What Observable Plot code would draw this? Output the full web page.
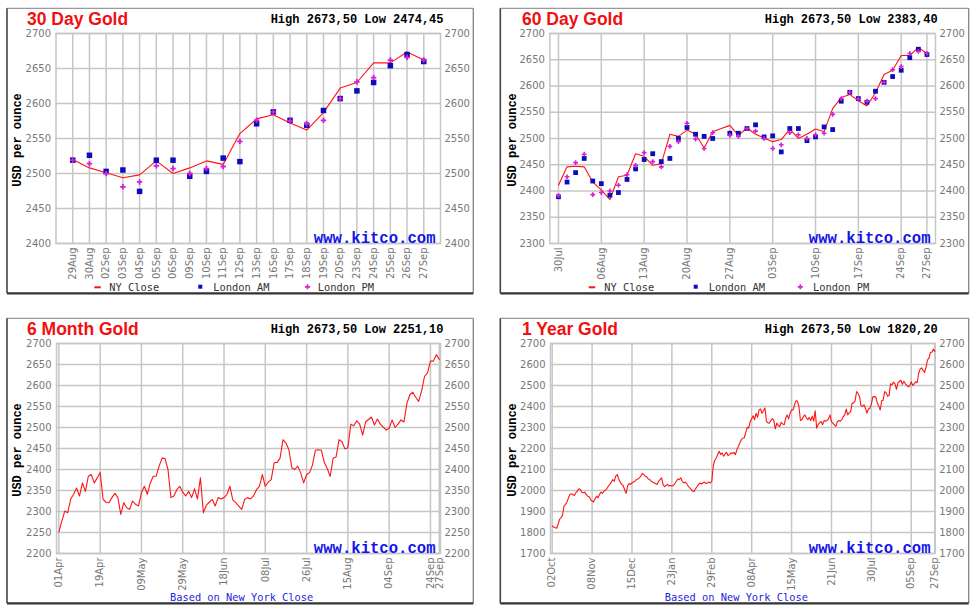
<!DOCTYPE html>
<html><head><meta charset="utf-8">
<script src="https://cdn.jsdelivr.net/npm/d3@7"></script>
<script src="https://cdn.jsdelivr.net/npm/@observablehq/plot@0.6"></script>
<style>
body{margin:0;background:#fff;}
#page{position:relative;width:974px;height:610px;overflow:hidden;background:#fff;}
</style></head>
<body><div id="page"></div>
<script>
// ---------- 30 day ----------
const days30 = ["29Aug","30Aug","02Sep","03Sep","04Sep","05Sep","06Sep","09Sep","10Sep","11Sep","12Sep","13Sep","16Sep","17Sep","18Sep","19Sep","20Sep","23Sep","24Sep","25Sep","26Sep","27Sep"];
const close30 = [2520,2508,2501,2494,2498,2518,2500,2508,2518,2513,2557,2578,2584,2572,2562,2587,2622,2630,2658,2658,2673.5,2662];
const am30 = [2519,2526,2503,2505,2474.45,2519,2519,2496,2503,2522,2517,2571,2588,2576,2569,2590,2607,2618,2630,2654,2670,2660];
const pm30 = [2519,2514,2500,2481,2488,2511,2507,2500,2507,2510,2546,2576,2588,2575,2571,2576,2607,2631,2637,2662,2666,2662];
const yTicks30 = [2400,2450,2500,2550,2600,2650,2700];

// ---------- 60 day ----------
const ticks60 = [0,5,10,15,20,25,30,35,40,43];
const labels60 = ["30Jul","06Aug","13Aug","20Aug","27Aug","03Sep","10Sep","17Sep","24Sep","27Sep"];
const close60 = [2411,2446,2447,2446,2417,2402,2383.4,2427,2430,2471,2466,2449,2452,2508,2504,2516,2508,2482,2513,2519,2525,2506,
  2520,2508,2501,2494,2498,2518,2500,2508,2518,2513,2557,2578,2584,2572,2562,2587,2622,2630,2658,2658,2673.5,2662];
const am60 = [2389,2417,2435,2462,2419,2414,2392,2397,2422,2442,2460,2471,2456,2462,2500,2521,2508,2504,2500,null,2510,2510,
  2519,2526,2503,2505,2474.45,2519,2519,2496,2503,2522,2517,2571,2588,2576,2569,2590,2607,2618,2630,2654,2670,2660];
const pm60 = [2391,2427,2454,2470,2393,2397,2400,2411,2431,2449,2473,2456,2446,2485,2494,2529,2499,2481,2511,null,2506,2504,
  2519,2514,2500,2481,2488,2511,2507,2500,2507,2510,2546,2576,2588,2575,2571,2576,2607,2631,2637,2662,2666,2662];
const yTicks60 = [2300,2350,2400,2450,2500,2550,2600,2650,2700];

// ---------- 6 month ----------
const ticks6m = [0,14,28,42,56,70,84,98,112,126,129];
const labels6m = ["01Apr","19Apr","09May","29May","18Jun","08Jul","26Jul","15Aug","04Sep","24Sep","27Sep"];
const close6m = [
  2251.1,2277,2301,2297,2329,2341,2356,2337,2368,2348,
  2384,2388,2368,2380,2393,2329,2322,2321,2333,2343,
  2333,2293,2321,2309,2305,2325,2317,2313,2345,2360,
  2341,2368,2384,2384,2408,2427,2426,2400,2333,2337,
  2352,2360,2346,2337,2348,2333,2354,2330,2380,2297,
  2315,2322,2329,2313,2333,2330,2333,2341,2360,2327,
  2321,2313,2305,2329,2333,2330,2337,2352,2360,2388,
  2360,2370,2376,2416,2417,2427,2471,2463,2447,2404,
  2400,2408,2392,2368,2388,2392,
  2411,2446,2447,2446,2417,2402,2383.4,2427,2430,2471,
  2466,2449,2452,2508,2504,2516,2508,2482,2513,2519,
  2525,2506,2520,2508,2501,2494,2498,2518,2500,2508,
  2518,2513,2557,2578,2584,2572,2562,2587,2622,2630,
  2658,2658,2673.5,2662];
const yTicks6m = [2200,2250,2300,2350,2400,2450,2500,2550,2600,2650,2700];

// ---------- 1 year ----------
const ticks1y = [0,27,54,81,108,135,162,189,216,243,259];
const labels1y = ["02Oct","08Nov","15Dec","23Jan","29Feb","08Apr","15May","21Jun","30Jul","05Sep","27Sep"];
const close1y = [
  1831,1826,1823,1820.2,1839,1863,1871,1882,1926,1934,
  1945,1965,1981,1984,1981,1976,1989,1997,2008,2005,
  1992,1989,1992,1981,1973,1970,1957,1950,1945,1961,
  1973,1965,1981,1992,1986,1997,2002,2008,2021,2029,
  2040,2052,2044,2068,2076,2055,2040,2029,2024,2005,
  1986,2021,2033,2029,2036,2040,2044,2052,2055,2060,
  2068,2081,2076,2068,2065,2055,2052,2044,2040,2036,
  2033,2029,2044,2052,2060,2029,2018,2024,2029,2021,
  2024,2021,2024,2033,2044,2055,2052,2060,2044,2036,
  2040,2033,2021,2013,2005,1997,1995,2008,2018,2028,
  2036,2031,2036,2040,2033,2036,2040,2036,2044,2116,
  2144,2155,2171,2187,2171,2179,2163,2174,2182,2166,
  2171,2179,2176,2182,2171,2195,2210,2226,2242,2250,
  2251.1,2277,2301,2297,2329,2341,2356,2337,2368,2348,
  2384,2388,2368,2380,2393,2329,2322,2321,2333,2343,
  2333,2293,2321,2309,2305,2325,2317,2313,2345,2360,
  2341,2368,2384,2384,2408,2427,2426,2400,2333,2337,
  2352,2360,2346,2337,2348,2333,2354,2330,2380,2297,
  2315,2322,2329,2313,2333,2330,2333,2341,2360,2327,
  2321,2313,2305,2329,2333,2330,2337,2352,2360,2388,
  2360,2370,2376,2416,2417,2427,2471,2463,2447,2404,
  2400,2408,2392,2368,2388,2392,
  2411,2446,2447,2446,2417,2402,2383.4,2427,2430,2471,
  2466,2449,2452,2508,2504,2516,2508,2482,2513,2519,
  2525,2506,2520,2508,2501,2494,2498,2518,2500,2508,
  2518,2513,2557,2578,2584,2572,2562,2587,2622,2630,
  2658,2658,2673.5,2662];
const yTicks1y = [1700,1800,1900,2000,2100,2200,2300,2400,2500,2600,2700];

const titles = ["30 Day Gold","60 Day Gold","6 Month Gold","1 Year Gold"];
const highLow = ["High 2673,50 Low 2474,45","High 2673,50 Low 2383,40","High 2673,50 Low 2251,10","High 2673,50 Low 1820,20"];
const legendNames = ["NY Close","London AM","London PM"];

const RED = "#ff1414", BLUE = "#0c0cb8", MAG = "#d81ed8", GRID = "#c6c6c6";
const page = document.getElementById("page");

function panel({left, top, width, height, ml, mr, xDomain, xTicks, xFormat, yDomain, yTicks, marks}) {
  const svg = Plot.plot({
    width, height,
    marginLeft: ml, marginRight: mr, marginTop: 25, marginBottom: 50,
    x: {type: "linear", domain: xDomain},
    y: {type: "linear", domain: yDomain},
    style: {fontFamily: "'DejaVu Sans', sans-serif", fontSize: "10px", color: "#777", background: "transparent", overflow: "visible"},
    marks: [
      Plot.gridY(yTicks, {stroke: GRID, strokeOpacity: 1, strokeWidth: 1.5}),
      Plot.gridX(xTicks, {stroke: GRID, strokeOpacity: 1, strokeWidth: 1.5}),
      Plot.frame({stroke: GRID, strokeWidth: 1.5}),
      Plot.axisY(yTicks, {anchor: "left", tickSize: 0, tickPadding: 5, tickFormat: "d", label: null}),
      Plot.axisY(yTicks, {anchor: "right", tickSize: 0, tickPadding: 4, tickFormat: "d", label: null}),
      Plot.axisX(xTicks, {anchor: "bottom", tickSize: 0, tickPadding: 4, tickRotate: -90, tickFormat: xFormat, label: null}),
      ...marks
    ]
  });
  svg.style.position = "absolute";
  svg.style.left = left + "px";
  svg.style.top = top + "px";
  page.appendChild(svg);
}

const idx = (d, i) => i;
const val = d => d;

panel({left: 7, top: 8.3, width: 466.3, height: 285, ml: 48.5, mr: 33.3,
  xDomain: [-1, 22], xTicks: days30.map((d, i) => i), xFormat: i => days30[i],
  yDomain: [2400, 2700], yTicks: yTicks30,
  marks: [
    Plot.line(close30, {x: idx, y: val, stroke: RED, strokeWidth: 1.1}),
    Plot.dot(am30, {x: idx, y: val, symbol: "square", fill: BLUE, r: 3.1}),
    Plot.dot(pm30, {x: idx, y: val, symbol: "cross", fill: MAG, r: 2.3})
  ]});

panel({left: 500.3, top: 8.3, width: 468.4, height: 285, ml: 49.4, mr: 33.4,
  xDomain: [-1, 44], xTicks: ticks60, xFormat: t => labels60[ticks60.indexOf(t)],
  yDomain: [2300, 2700], yTicks: yTicks60,
  marks: [
    Plot.line(close60, {x: idx, y: val, stroke: RED, strokeWidth: 1.1}),
    Plot.dot(am60, {x: idx, y: val, symbol: "square", fill: BLUE, r: 2.7}),
    Plot.dot(pm60, {x: idx, y: val, symbol: "cross", fill: MAG, r: 2.0})
  ]});

panel({left: 7, top: 318.3, width: 466.3, height: 285, ml: 49, mr: 33.3,
  xDomain: [-0.8, 129.4], xTicks: ticks6m, xFormat: t => labels6m[ticks6m.indexOf(t)],
  yDomain: [2200, 2700], yTicks: yTicks6m,
  marks: [Plot.line(close6m, {x: idx, y: val, stroke: RED, strokeWidth: 1.1})]});

panel({left: 500.3, top: 318.3, width: 468.4, height: 285, ml: 50, mr: 33.7,
  xDomain: [-1.15, 259.2], xTicks: ticks1y, xFormat: t => labels1y[ticks1y.indexOf(t)],
  yDomain: [1700, 2700], yTicks: yTicks1y,
  marks: [Plot.line(close1y, {x: idx, y: val, stroke: RED, strokeWidth: 1.1})]});

// ---------- overlay: borders, titles, legends ----------
const ov = d3.select(page).append("svg")
  .attr("width", 974).attr("height", 610)
  .style("position", "absolute").style("left", "0px").style("top", "0px")
  .style("pointer-events", "none");

const boxes = [[7, 8.3, 473.3, 293.3], [500.3, 8.3, 968.7, 293.3], [7, 318.3, 473.3, 603.3], [500.3, 318.3, 968.7, 603.3]];
boxes.forEach(([l, t, r, b]) => {
  ov.append("line").attr("x1", l).attr("y1", t).attr("x2", r).attr("y2", t).attr("stroke", "#9a9a9a").attr("stroke-width", 1.2);
  ov.append("line").attr("x1", r).attr("y1", t).attr("x2", r).attr("y2", b).attr("stroke", "#8a8a8a").attr("stroke-width", 1.4);
  ov.append("line").attr("x1", l).attr("y1", t).attr("x2", l).attr("y2", b).attr("stroke", "#444").attr("stroke-width", 1.6);
  ov.append("line").attr("x1", l).attr("y1", b).attr("x2", r).attr("y2", b).attr("stroke", "#333").attr("stroke-width", 2.2);
});

function txt(x, y, s, o = {}) {
  const t = ov.append("text").attr("x", x).attr("y", y).text(s)
    .attr("font-family", o.family || "'Liberation Mono', monospace")
    .attr("font-size", o.size || 12)
    .attr("font-weight", o.weight || "normal")
    .attr("fill", o.fill || "#000")
    .attr("text-anchor", o.anchor || "start");
  if (o.rotate) t.attr("transform", `rotate(-90 ${x} ${y})`);
  return t;
}

const titlePos = [[27, 24.8], [522, 24.8], [27, 334.8], [522, 334.8]];
const hlPos = [[443.5, 22.5], [937.7, 22.5], [443.5, 332.5], [937.7, 332.5]];
const yLabPos = [[20.5, 140], [515.5, 140], [20.5, 450], [515.5, 450]];
const kitPos = [[435.5, 242.5], [930.5, 242.5], [435.5, 552.5], [930.5, 552.5]];
for (let k = 0; k < 4; k++) {
  txt(titlePos[k][0], titlePos[k][1], titles[k], {family: "'Liberation Sans', Arial, sans-serif", size: 17.5, weight: "bold", fill: "#f01010"});
  txt(hlPos[k][0], hlPos[k][1], highLow[k], {size: 12, weight: "bold", anchor: "end"});
  txt(yLabPos[k][0], yLabPos[k][1], "USD per ounce", {size: 12, weight: "bold", anchor: "middle", rotate: true});
  txt(kitPos[k][0], kitPos[k][1], "www.kitco.com", {size: 15.6, weight: "bold", anchor: "end", fill: "#1414e8"});
}

// legends for 30/60 day
const legends = [
  {dash: 94.3, name1: 109.3, sq: 200.3, name2: 213.3, pl: 307.5, name3: 317.7},
  {dash: 588.7, name1: 604.3, sq: 695.7, name2: 708.7, pl: 800.3, name3: 813}
];
legends.forEach(L => {
  ov.append("line").attr("x1", L.dash).attr("x2", L.dash + 6.5).attr("y1", 287.3).attr("y2", 287.3).attr("stroke", RED).attr("stroke-width", 2);
  ov.append("rect").attr("x", L.sq - 2).attr("y", 284.7).attr("width", 4).attr("height", 4).attr("fill", BLUE);
  ov.append("path").attr("d", d3.symbol(d3.symbolCross, 14)()).attr("transform", `translate(${L.pl},286.8)`).attr("fill", MAG);
  const lo = {family: "'DejaVu Sans Mono', monospace", size: 10.4, fill: "#333"};
  txt(L.name1, 291, legendNames[0], lo);
  txt(L.name2, 291, legendNames[1], lo);
  txt(L.name3, 291, legendNames[2], lo);
});

// "Based on New York Close" for 6 month / 1 year
const basedPos = [[170, 601.3], [664.7, 601.3]];
basedPos.forEach(([x, y]) => txt(x, y, "Based on New York Close", {family: "'DejaVu Sans Mono', monospace", size: 10.35, fill: "#2525dd"}));
</script>
</body></html>
